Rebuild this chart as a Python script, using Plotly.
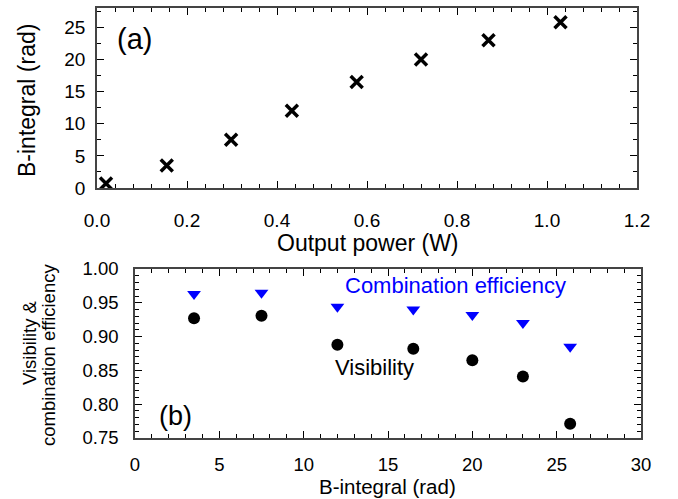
import plotly.graph_objects as go

# Panel (a)
power_w = [0.02, 0.155, 0.298, 0.433, 0.577, 0.72, 0.87, 1.03]
b_integral_a = [0.7, 3.5, 7.5, 12.0, 16.5, 20.0, 23.0, 25.8]

# Panel (b)
b_integral_b = [3.5, 7.5, 12.0, 16.5, 20.0, 23.0, 25.8]
visibility = [0.927, 0.931, 0.888, 0.882, 0.865, 0.841, 0.771]
comb_eff = [0.963, 0.965, 0.944, 0.940, 0.932, 0.920, 0.885]

FONT = "Liberation Sans, Arial, sans-serif"
AXC = "#444444"
W, H = 678, 499

def fx(px):
    return px / W

def fy(py):
    return 1 - py / H

fig = go.Figure()
fig.add_trace(go.Scatter(x=power_w, y=b_integral_a, mode="markers",
                         marker=dict(symbol="x-thin", size=12, color="black",
                                     line=dict(width=3.5, color="black")),
                         xaxis="x", yaxis="y", showlegend=False))
fig.add_trace(go.Scatter(x=b_integral_b, y=comb_eff, mode="markers",
                         marker=dict(symbol="triangle-down", size=12, color="#0000ff"),
                         xaxis="x2", yaxis="y2", showlegend=False))
fig.add_trace(go.Scatter(x=b_integral_b, y=visibility, mode="markers",
                         marker=dict(symbol="circle", size=12, color="black"),
                         xaxis="x2", yaxis="y2", showlegend=False))

def ax(size, standoff):
    return dict(showgrid=False, zeroline=False, showline=True, linecolor=AXC, linewidth=1.5,
                mirror="ticks", ticks="inside", ticklen=7, tickwidth=1.2, tickcolor="black",
                automargin=False, ticklabelstandoff=standoff,
                tickfont=dict(family=FONT, size=size, color="black"))

def minor(d):
    return dict(dtick=d, ticklen=4, ticks="inside", tickcolor="black", tickwidth=1)

fig.update_layout(
    width=W, height=H, margin=dict(l=0, r=0, t=0, b=0),
    plot_bgcolor="white", paper_bgcolor="white",
    xaxis=dict(domain=[fx(97), fx(637)], range=[0, 1.2], dtick=0.2, tickformat=".1f",
               minor=minor(0.04), anchor="y", **ax(19, 14)),
    yaxis=dict(domain=[fy(188), fy(8)], range=[0, 28], dtick=5,
               minor=minor(2.5), anchor="x", **ax(19, 6)),
    xaxis2=dict(domain=[fx(135), fx(641)], range=[0, 30], dtick=5,
                minor=minor(1), anchor="y2", **ax(18.5, 9)),
    yaxis2=dict(domain=[fy(438), fy(269)], range=[0.75, 1.0], dtick=0.05, tickformat=".2f",
                minor=minor(0.01), anchor="x2", **ax(18.5, 11)),
)

def ptxt(text, px, py, size, angle=0, color="black"):
    return dict(text=text, x=fx(px), y=fy(py), xref="paper", yref="paper",
                xanchor="center", yanchor="middle", showarrow=False, textangle=angle,
                font=dict(family=FONT, size=size, color=color))

fig.update_layout(annotations=[
    ptxt("Output power (W)", 368, 243, 23),
    ptxt("B-integral (rad)", 27, 101, 23, angle=-90),
    ptxt("B-integral (rad)", 387, 486, 20.5),
    ptxt("Visibility &amp;", 29, 343, 18.5, angle=-90),
    ptxt("combination efficiency", 48, 355, 18.5, angle=-90),
    dict(text="(a)", x=0.0844, y=23.2, xref="x", yref="y", showarrow=False,
         font=dict(family=FONT, size=29, color="black")),
    dict(text="(b)", x=2.43, y=0.7825, xref="x2", yref="y2", showarrow=False,
         font=dict(family=FONT, size=27, color="black")),
    dict(text="Combination efficiency", x=18.99, y=0.976, xref="x2", yref="y2",
         showarrow=False, font=dict(family=FONT, size=22, color="#0000ff")),
    dict(text="Visibility", x=14.2, y=0.855, xref="x2", yref="y2",
         showarrow=False, font=dict(family=FONT, size=22, color="black")),
])

fig.write_html("out.html", config={"displayModeBar": False},
               post_script="document.body.style.margin='0';document.body.style.overflow='hidden';")
